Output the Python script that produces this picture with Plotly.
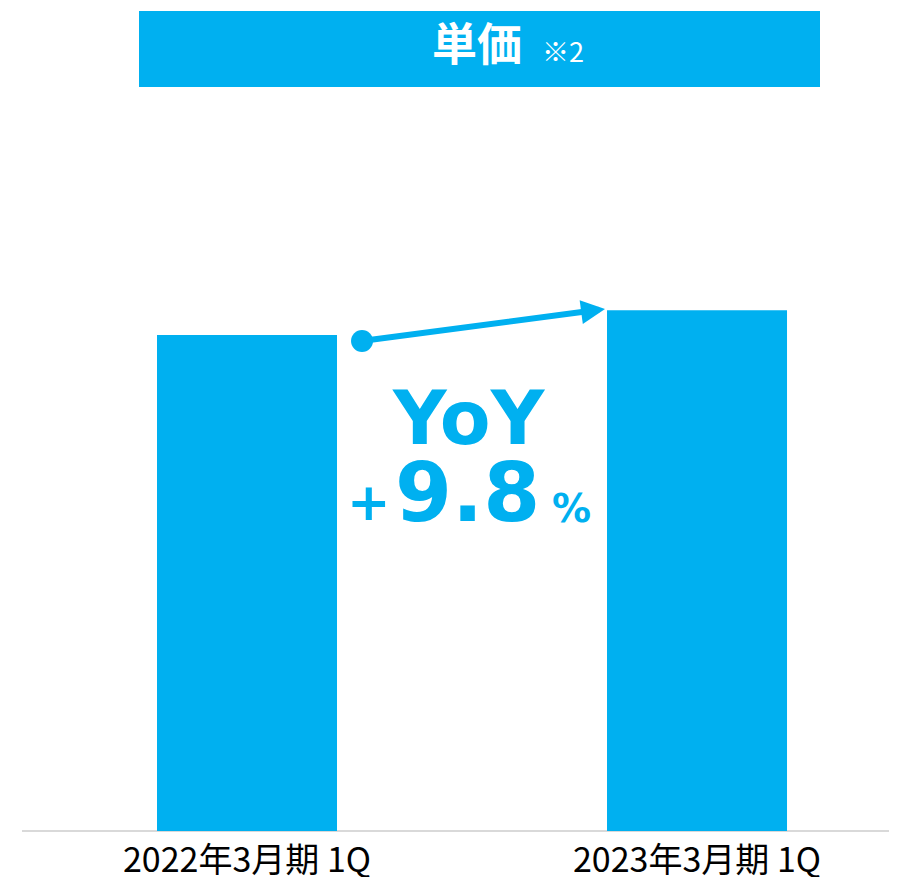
import plotly.graph_objects as go

# ---- data ----
categories = ["2022年3月期 1Q", "2023年3月期 1Q"]
unit_price_index = [100.0, 105.0]
yoy_label = "9.8"
title_text = "単価"
title_note = "※2"

BLUE = "#00B0F0"
OFF = 8  # page body margin
W, H = 897 - OFF, 877 - OFF
L, R, T, B = 22 - OFF, 0, 100 - OFF, 46
PW, PH = W - L - R, H - T - B


def px(x):
    return (x - OFF - L) / PW


def py(y):
    return (H - B - (y - OFF)) / PH


fig = go.Figure()
fig.add_bar(x=[0, 1], y=unit_price_index, width=0.4, marker_color=BLUE,
            marker_line_width=0, hoverinfo="skip")

# dot at start of arrow
fig.add_scatter(x=[0.2556], y=[unit_price_index[0] * 0.988], mode="markers",
                marker=dict(size=22, color=BLUE), hoverinfo="skip")

fig.add_annotation(x=0.7956, y=unit_price_index[1] * 1.0025, ax=0.2556,
                   ay=unit_price_index[0] * 0.988, xref="x", yref="y",
                   axref="x", ayref="y", showarrow=True, arrowhead=2,
                   arrowsize=0.8, arrowwidth=6, arrowcolor=BLUE, text="")

# title banner
fig.add_shape(type="rect", xref="paper", yref="paper", x0=px(139), x1=px(820),
              y0=py(87), y1=py(11), fillcolor=BLUE, line_width=0, layer="above")
fig.add_annotation(xref="paper", yref="paper", x=px(477), y=py(7),
                   text="<b>" + title_text + "</b>", showarrow=False,
                   font=dict(size=45, color="white", family="Noto Sans CJK JP"))
fig.add_annotation(xref="paper", yref="paper", x=px(563), y=py(29),
                   text=title_note, showarrow=False,
                   font=dict(size=27, color="white", family="Noto Sans CJK JP"))

# YoY text
fig.add_annotation(xref="paper", yref="paper", x=px(469), y=py(418),
                   text="<b>YoY</b>", showarrow=False,
                   font=dict(size=74, color=BLUE, family="DejaVu Sans"))
fig.add_annotation(xref="paper", yref="paper", x=px(369), y=py(502),
                   text="<b>+</b>", showarrow=False,
                   font=dict(size=52, color=BLUE, family="DejaVu Sans"))
fig.add_annotation(xref="paper", yref="paper", x=px(467), y=py(493),
                   text="<b>" + yoy_label + "</b>", showarrow=False,
                   font=dict(size=82, color=BLUE, family="DejaVu Sans"))
fig.add_annotation(xref="paper", yref="paper", x=px(571), y=py(508),
                   text="<b>%</b>", showarrow=False,
                   font=dict(size=39, color=BLUE, family="DejaVu Sans"))

fig.update_layout(
    width=W, height=H, margin=dict(l=L, r=R, t=T, b=B),
    paper_bgcolor="white", plot_bgcolor="white", showlegend=False,
    xaxis=dict(range=[-0.5, 1.4444], tickmode="array", tickvals=[0, 1],
               ticktext=categories, showgrid=False, zeroline=False,
               showline=False, ticks="", ticklen=0, ticklabelstandoff=6,
               automargin=False,
               tickfont=dict(size=34, color="black", family="Noto Sans CJK JP")),
    yaxis=dict(range=[0, 147.4], visible=False, showgrid=False, automargin=False),
)
fig.add_shape(type="line", xref="paper", yref="paper", x0=0, x1=1, y0=0, y1=0,
              line=dict(color="#D9D9D9", width=2), layer="below")

fig.write_html("out.html")
